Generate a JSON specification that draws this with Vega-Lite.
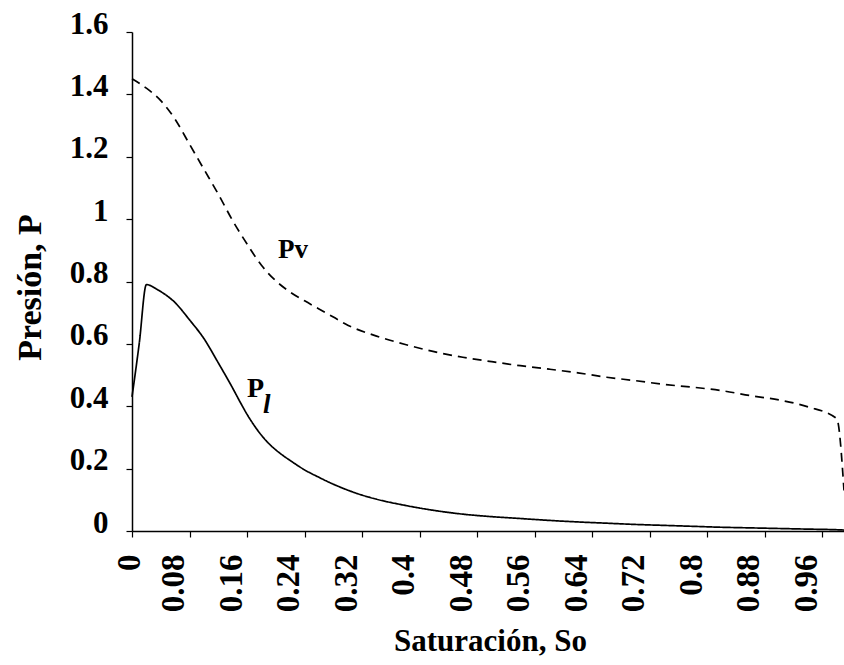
{
  "$schema": "https://vega.github.io/schema/vega-lite/v6.json",
  "width": 712,
  "height": 499,
  "autosize": "none",
  "padding": {"left": 132, "top": 32, "right": 0, "bottom": 134},
  "background": "white",
  "config": {"view": {"stroke": null}, "font": "Liberation Serif"},
  "datasets": {
    "curves": [
      {"So": 0.0, "P": 1.45, "serie": "Pv"},
      {"So": 0.02, "P": 1.42, "serie": "Pv"},
      {"So": 0.04, "P": 1.38, "serie": "Pv"},
      {"So": 0.06, "P": 1.32, "serie": "Pv"},
      {"So": 0.08, "P": 1.24, "serie": "Pv"},
      {"So": 0.1, "P": 1.16, "serie": "Pv"},
      {"So": 0.12, "P": 1.08, "serie": "Pv"},
      {"So": 0.14, "P": 0.995, "serie": "Pv"},
      {"So": 0.16, "P": 0.92, "serie": "Pv"},
      {"So": 0.18, "P": 0.852, "serie": "Pv"},
      {"So": 0.2, "P": 0.802, "serie": "Pv"},
      {"So": 0.22, "P": 0.766, "serie": "Pv"},
      {"So": 0.24, "P": 0.738, "serie": "Pv"},
      {"So": 0.26, "P": 0.712, "serie": "Pv"},
      {"So": 0.28, "P": 0.686, "serie": "Pv"},
      {"So": 0.3, "P": 0.66, "serie": "Pv"},
      {"So": 0.34, "P": 0.625, "serie": "Pv"},
      {"So": 0.38, "P": 0.598, "serie": "Pv"},
      {"So": 0.42, "P": 0.575, "serie": "Pv"},
      {"So": 0.46, "P": 0.557, "serie": "Pv"},
      {"So": 0.5, "P": 0.543, "serie": "Pv"},
      {"So": 0.54, "P": 0.53, "serie": "Pv"},
      {"So": 0.58, "P": 0.519, "serie": "Pv"},
      {"So": 0.62, "P": 0.507, "serie": "Pv"},
      {"So": 0.66, "P": 0.493, "serie": "Pv"},
      {"So": 0.7, "P": 0.482, "serie": "Pv"},
      {"So": 0.74, "P": 0.47, "serie": "Pv"},
      {"So": 0.78, "P": 0.461, "serie": "Pv"},
      {"So": 0.82, "P": 0.45, "serie": "Pv"},
      {"So": 0.86, "P": 0.434, "serie": "Pv"},
      {"So": 0.9, "P": 0.42, "serie": "Pv"},
      {"So": 0.94, "P": 0.398, "serie": "Pv"},
      {"So": 0.98, "P": 0.36, "serie": "Pv"},
      {"So": 0.99, "P": 0.13, "serie": "Pv"},
      {"So": 0.0, "P": 0.43, "serie": "Pl"},
      {"So": 0.01, "P": 0.6, "serie": "Pl"},
      {"So": 0.02, "P": 0.79, "serie": "Pl"},
      {"So": 0.036, "P": 0.773, "serie": "Pl"},
      {"So": 0.06, "P": 0.732, "serie": "Pl"},
      {"So": 0.08, "P": 0.677, "serie": "Pl"},
      {"So": 0.1, "P": 0.617, "serie": "Pl"},
      {"So": 0.12, "P": 0.539, "serie": "Pl"},
      {"So": 0.14, "P": 0.458, "serie": "Pl"},
      {"So": 0.15, "P": 0.415, "serie": "Pl"},
      {"So": 0.16, "P": 0.374, "serie": "Pl"},
      {"So": 0.17, "P": 0.338, "serie": "Pl"},
      {"So": 0.18, "P": 0.307, "serie": "Pl"},
      {"So": 0.19, "P": 0.281, "serie": "Pl"},
      {"So": 0.2, "P": 0.26, "serie": "Pl"},
      {"So": 0.21, "P": 0.242, "serie": "Pl"},
      {"So": 0.22, "P": 0.226, "serie": "Pl"},
      {"So": 0.24, "P": 0.196, "serie": "Pl"},
      {"So": 0.26, "P": 0.172, "serie": "Pl"},
      {"So": 0.28, "P": 0.15, "serie": "Pl"},
      {"So": 0.3, "P": 0.131, "serie": "Pl"},
      {"So": 0.32, "P": 0.115, "serie": "Pl"},
      {"So": 0.34, "P": 0.102, "serie": "Pl"},
      {"So": 0.38, "P": 0.082, "serie": "Pl"},
      {"So": 0.42, "P": 0.066, "serie": "Pl"},
      {"So": 0.46, "P": 0.054, "serie": "Pl"},
      {"So": 0.5, "P": 0.046, "serie": "Pl"},
      {"So": 0.54, "P": 0.04, "serie": "Pl"},
      {"So": 0.58, "P": 0.034, "serie": "Pl"},
      {"So": 0.62, "P": 0.029, "serie": "Pl"},
      {"So": 0.66, "P": 0.025, "serie": "Pl"},
      {"So": 0.7, "P": 0.021, "serie": "Pl"},
      {"So": 0.74, "P": 0.018, "serie": "Pl"},
      {"So": 0.78, "P": 0.015, "serie": "Pl"},
      {"So": 0.82, "P": 0.012, "serie": "Pl"},
      {"So": 0.86, "P": 0.01, "serie": "Pl"},
      {"So": 0.9, "P": 0.008, "serie": "Pl"},
      {"So": 0.94, "P": 0.006, "serie": "Pl"},
      {"So": 0.98, "P": 0.004, "serie": "Pl"},
      {"So": 0.99, "P": 0.003, "serie": "Pl"}
    ]
  },
  "layer": [
    {
      "data": {"name": "curves"},
      "mark": {"type": "line", "color": "black", "strokeWidth": 1.7, "interpolate": "monotone"},
      "encoding": {
        "x": {
          "field": "So",
          "type": "quantitative",
          "scale": {"domain": [0, 0.99], "nice": false, "zero": false},
          "axis": {
            "values": [0, 0.02, 0.04, 0.06, 0.08, 0.1, 0.12, 0.14, 0.16, 0.18, 0.2, 0.22, 0.24, 0.26, 0.28, 0.3, 0.32, 0.34, 0.36, 0.38, 0.4, 0.42, 0.44, 0.46, 0.48, 0.5, 0.52, 0.54, 0.56, 0.58, 0.6, 0.62, 0.64, 0.66, 0.68, 0.7, 0.72, 0.74, 0.76, 0.78, 0.8, 0.82, 0.84, 0.86, 0.88, 0.9, 0.92, 0.94, 0.96, 0.98],
            "labelExpr": "round(datum.value * 50) % 4 == 0 ? format(datum.value, '~g') : ''",
            "labelAngle": 270,
            "labelAlign": "right",
            "labelBaseline": "middle",
            "labelFont": "Liberation Serif",
            "labelFontSize": 33,
            "labelFontWeight": "bold",
            "labelColor": "black",
            "labelPadding": 17,
            "labelOffset": {"condition": {"test": "datum.value == 0", "value": -3}, "value": -16},
            "labelOverlap": false,
            "labelFlush": false,
            "labelBound": false,
            "tickSize": 6,
            "tickWidth": 1.2,
            "tickColor": "black",
            "domainColor": "black",
            "domainWidth": 1.5,
            "grid": false,
            "title": "Saturación, So",
            "titleFont": "Liberation Serif",
            "titleFontSize": 31,
            "titleFontWeight": "bold",
            "titleColor": "black",
            "titleX": 358,
            "titleY": 119,
            "titleAlign": "center",
            "titleBaseline": "alphabetic"
          }
        },
        "y": {
          "field": "P",
          "type": "quantitative",
          "scale": {"domain": [0, 1.6], "nice": false},
          "axis": {
            "values": [0, 0.2, 0.4, 0.6, 0.8, 1, 1.2, 1.4, 1.6],
            "format": "~g",
            "labelFont": "Liberation Serif",
            "labelFontSize": 31,
            "labelFontWeight": "bold",
            "labelColor": "black",
            "labelPadding": 18,
            "labelOffset": -8,
            "labelBaseline": "middle",
            "labelFlush": false,
            "labelOverlap": false,
            "tickSize": 6,
            "tickWidth": 1.2,
            "tickColor": "black",
            "domainColor": "black",
            "domainWidth": 1.5,
            "grid": false,
            "title": "Presión, P",
            "titleFont": "Liberation Serif",
            "titleFontSize": 34,
            "titleFontWeight": "bold",
            "titleColor": "black",
            "titleAngle": 270,
            "titleX": -92,
            "titleY": 255,
            "titleAlign": "center",
            "titleBaseline": "alphabetic"
          }
        },
        "detail": {"field": "serie"},
        "strokeDash": {
          "field": "serie",
          "type": "nominal",
          "scale": {"domain": ["Pv", "Pl"], "range": [[9, 6], [1, 0]]},
          "legend": null
        }
      }
    },
    {
      "data": {"values": [{}]},
      "mark": {"type": "text", "text": "Pv", "align": "left", "baseline": "alphabetic", "font": "Liberation Serif", "fontSize": 27, "fontWeight": "bold", "color": "black"},
      "encoding": {
        "x": {"datum": 0.203, "type": "quantitative"},
        "y": {"datum": 0.875, "type": "quantitative"}
      }
    },
    {
      "data": {"values": [{}]},
      "mark": {"type": "text", "text": "P", "align": "left", "baseline": "alphabetic", "font": "Liberation Serif", "fontSize": 28, "fontWeight": "bold", "color": "black"},
      "encoding": {
        "x": {"datum": 0.16, "type": "quantitative"},
        "y": {"datum": 0.43, "type": "quantitative"}
      }
    },
    {
      "data": {"values": [{}]},
      "mark": {"type": "text", "text": "l", "align": "left", "baseline": "alphabetic", "font": "Liberation Serif", "fontSize": 27, "fontStyle": "italic", "fontWeight": "bold", "color": "black"},
      "encoding": {
        "x": {"datum": 0.182, "type": "quantitative"},
        "y": {"datum": 0.378, "type": "quantitative"}
      }
    }
  ]
}
